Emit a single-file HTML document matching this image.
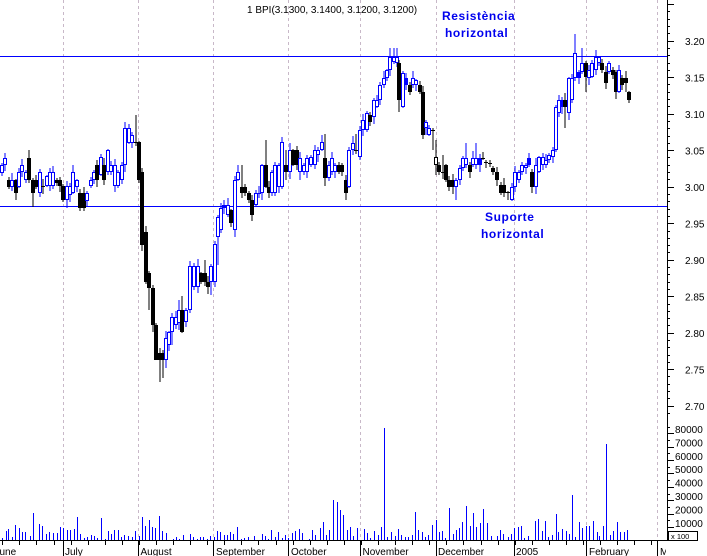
<!DOCTYPE html>
<html><head><meta charset="utf-8">
<style>
html,body{margin:0;padding:0;background:#fff;}
svg{display:block;font-family:"Liberation Sans",Arial,sans-serif;}
</style></head>
<body>
<svg id="s" width="707" height="556" viewBox="0 0 707 556" xmlns="http://www.w3.org/2000/svg">
<defs><clipPath id="cp"><rect x="0" y="0" width="666" height="556"/></clipPath></defs>
<rect x="0" y="0" width="707" height="556" fill="#fff"/>
<g id="grid" stroke="#c8b8c8" stroke-width="1" stroke-dasharray="3,3"></g>
<line x1="0" y1="56.5" x2="667" y2="56.5" stroke="#0000ff" stroke-width="1"/>
<line x1="0" y1="206.5" x2="667" y2="206.5" stroke="#0000ff" stroke-width="1"/>
<g id="vol"></g>
<g id="c"></g>
<g id="axis" stroke="#000" stroke-width="1"></g>
<text x="247" y="13" font-size="10" fill="#000">1 BPI(3.1300, 3.1400, 3.1200, 3.1200)</text>
<g font-size="12" font-weight="bold" fill="#0000ee" letter-spacing="0.6">
<text x="442" y="20">Resistència</text>
<text x="445" y="37">horizontal</text>
<text x="485" y="221">Suporte</text>
<text x="481" y="238">horizontal</text>
</g>
<g font-size="10" fill="#000" clip-path="url(#cp)">
<text x="-5.5" y="555">June</text>
<text x="65" y="555">July</text>
<text x="140.5" y="555">August</text>
<text x="216" y="555">September</text>
<text x="291" y="555">October</text>
<text x="362.5" y="555">November</text>
<text x="438" y="555">December</text>
<text x="516" y="555">2005</text>
<text x="589" y="555">February</text>
<text x="660" y="555">March</text>
</g>
<g font-size="10" fill="#000">
<text x="685" y="45">3.20</text>
<text x="685" y="81.5">3.15</text>
<text x="685" y="118">3.10</text>
<text x="685" y="154.5">3.05</text>
<text x="685" y="191">3.00</text>
<text x="685" y="227.5">2.95</text>
<text x="685" y="264">2.90</text>
<text x="685" y="300.5">2.85</text>
<text x="685" y="337">2.80</text>
<text x="685" y="373.5">2.75</text>
<text x="685" y="410">2.70</text>
<text x="675" y="433">80000</text>
<text x="675" y="446.4">70000</text>
<text x="675" y="459.8">60000</text>
<text x="675" y="473.2">50000</text>
<text x="675" y="486.6">40000</text>
<text x="675" y="500">30000</text>
<text x="675" y="513.4">20000</text>
<text x="675" y="526.8">10000</text>
</g>
<rect x="668.5" y="531.5" width="29" height="9" fill="#fff" stroke="#000" stroke-width="1"/>
<text x="671" y="539" font-size="7.5" fill="#000">x 100</text>
</svg>
<script>
(function(){
var NS='http://www.w3.org/2000/svg';
function mk(par,t,a){var e=document.createElementNS(NS,t);for(var k in a)e.setAttribute(k,a[k]);par.appendChild(e);return e;}
var grid=document.getElementById('grid');
var months=[63.5,138.5,213.5,288.5,360.5,436.5,514.5,586.5,657.5];
months.forEach(function(x){mk(grid,'line',{x1:x,y1:0,x2:x,y2:540});});
var axis=document.getElementById('axis');
mk(axis,'line',{x1:667.5,y1:0,x2:667.5,y2:541});
mk(axis,'line',{x1:0,y1:540.5,x2:668,y2:540.5});
for(var k=269;k<=326;k++){var p=k/100;var y=Math.round(186.7-(p-3)*730)+0.5;if(y<0)continue;var L=(k%5==0)?7:3;mk(axis,'line',{x1:667,y1:y,x2:667+L,y2:y});}
for(var v=5000;v<=85000;v+=5000){var y=Math.round(540.4-v*0.00134)+0.5;var L=(v%10000==0)?7:3;mk(axis,'line',{x1:667,y1:y,x2:667+L,y2:y});}
for(var x=2.3;x<667;x+=17.08){var xx=Math.round(x)+0.5;mk(axis,'line',{x1:xx,y1:540,x2:xx,y2:545});}
months.forEach(function(x){mk(axis,'line',{x1:x,y1:540,x2:x,y2:556});});
var vol=document.getElementById('vol');
var z4=[[7,145],[17,123],[25,117],[37,140],[46,105],[58,115],[67,126],[76,126],[89,138],[100,69],[118,101],[127,108],[139,132],[148,126],[160,129],[170,129],[181,111],[190,114],[200,120],[210,121],[223,117],[232,81],[241,132],[251,145],[262,141],[274,135],[283,138],[292,144],[304,84],[314,147],[325,123],[334,132],[343,120],[355,120],[364,141],[373,135],[385,138],[396,141],[406,123],[416,138],[425,81],[436,108],[448,90],[457,111],[466,114],[478,78],[487,123],[499,130],[518,148],[529,141],[538,147],[548,135],[571,132],[580,141],[590,147],[599,141],[609,141],[621,147],[631,138],[641,140],[652,123],[661,126],[673,135],[681,135],[691,126],[700,132],[712,111],[724,147],[733,144],[745,141],[763,138],[787,132],[796,138],[805,147],[814,120],[826,141],[835,126]];
var z5=[[7,143],[16,135],[25,145],[37,129],[46,123],[58,117],[67,129],[88,147],[97,120],[106,135],[120,114],[130,96],[139,135],[148,120],[160,30],[172,36],[181,60],[190,75],[202,120],[211,111],[220,138],[232,114],[253,117],[262,129],[271,144],[283,123],[295,135],[304,111],[313,-186],[322,141],[334,126],[346,138],[355,117],[364,135],[376,141],[385,141],[397,135],[406,66],[415,120],[427,126],[436,141],[445,135],[457,105],[468,90],[478,126],[487,123],[496,144],[508,54],[520,132],[529,120],[538,114],[547,96],[559,48],[571,108],[580,69],[589,111],[601,99],[610,57],[620,99],[632,138],[652,138],[661,120],[670,132],[685,141],[694,132],[703,114],[715,111],[724,108],[733,144],[745,138],[766,93],[775,87]];
var z3=[[5,393],[15,363],[25,410],[37,405],[47,342],[55,396],[65,387],[78,393],[88,402],[97,285],[106,410],[118,366],[127,384],[137,378],[148,378],[160,363],[170,396],[178,408],[190,378],[199,132],[211,405],[220,393],[230,366],[241,396],[252,396],[262,390]];
function vb(x,t){var xx=Math.round(x)+0.5;mk(vol,'line',{x1:xx,y1:540,x2:xx,y2:Math.round(t),stroke:'#0000ff','stroke-width':1});}
z4.forEach(function(a){vb(a[0]/3,490+a[1]/3);});
z5.forEach(function(a){vb(280+a[0]/3,490+a[1]/3);});
z3.forEach(function(a){vb(540+a[0]/3,400+a[1]/3);});
var C=[
[0,165,173,'u'],[3,158,165,'u'],[7,180,187,'d'],[10,180,187,'u'],[14,180,193,'d'],[17,172,187,'u'],[20,165,172,'u'],[24,172,180,'u'],[27,158,180,'d',150],[31,180,193,'d',0,207],[34,180,187,'d'],[38,172,193,'u'],[41,186,187,'d'],[45,176,186,'u'],[48,172,186,'u'],[51,172,186,'u'],[55,180,183,'d'],[58,180,186,'d'],[61,186,200,'d'],
[65,186,200,'u',0,208],[68,186,195,'u'],[71,172,193,'u'],[75,180,187,'u'],[78,193,208,'d'],[82,193,208,'d'],[85,193,201,'u'],[89,180,186,'u'],[92,172,180,'u'],[95,165,180,'d'],[99,157,175,'u'],[102,165,180,'d'],[106,150,172,'u'],[109,165,172,'u'],[113,165,186,'u'],[116,172,186,'u'],[120,165,180,'u'],[123,128,165,'u',122],[127,128,143,'u',124],[130,135,143,'u'],[134,142,143,'d',115],
[137,142,180,'d'],[140,172,245,'d'],[144,232,282,'d'],[147,273,288,'d',0,310],[151,288,325,'d'],[154,325,360,'d',0,343],[158,353,360,'d',0,382],[161,353,360,'d',0,378],[164,338,360,'u',0,368],[167,332,345,'u'],[170,317,332,'u',0,345],[174,317,325,'u'],[177,310,323,'u',300],[180,310,332,'d',296],[184,310,322,'u'],[188,266,310,'u'],[192,266,287,'u'],[196,266,287,'u'],[199,273,282,'d'],[203,273,282,'d',260],[206,282,287,'d'],[209,266,282,'u',0,295],[213,244,282,'u'],[216,217,237,'u',0,265],[219,208,230,'u'],[222,205,208,'f',200],[226,205,215,'u'],[229,210,223,'d'],[233,180,230,'u'],[236,172,180,'u',165],
[240,187,193,'d',165],[243,187,193,'d'],[247,193,200,'d'],[250,200,215,'d'],[254,193,205,'u'],[257,193,194,'u'],[260,165,193,'u'],[264,165,187,'d',140],[267,187,193,'d'],[270,172,193,'u'],[273,165,193,'u'],[277,165,187,'u'],[280,142,187,'u'],[284,165,172,'d',150,180],[288,150,172,'u'],[291,150,165,'d'],[295,150,165,'d'],[298,158,172,'u',0,180],[302,165,172,'u'],[305,158,172,'u'],[309,157,165,'u'],[313,150,165,'u'],[316,150,155,'u'],[320,142,150,'u'],[323,158,178,'d',134,186],[327,165,178,'u'],[330,158,172,'u'],[333,165,172,'u'],[337,165,172,'d'],[340,165,172,'d'],[344,180,193,'d'],[347,150,187,'u'],[351,143,150,'u'],[354,150,151,'d',134],[358,130,157,'u'],[361,120,130,'u'],[365,113,130,'u'],[368,115,122,'d'],[372,100,117,'u'],[375,100,107,'u'],[378,85,100,'u'],[382,78,85,'u'],[385,70,78,'u'],[388,57,70,'u',48],[392,57,62,'u',48],[395,57,63,'u',48],
[397,63,100,'d',0,112],[401,73,107,'u'],[404,78,85,'f'],[408,85,92,'d'],[411,78,85,'u'],[414,80,85,'u'],[418,85,92,'d'],[421,92,135,'d'],[424,122,128,'u'],[427,128,135,'u'],[431,130,131,'d',0,150],[434,157,165,'h',140,175],[437,165,172,'d'],[441,172,173,'d',155],[444,165,180,'d'],[447,180,187,'d'],[451,180,187,'d'],[454,180,187,'u',0,200],[458,168,180,'u'],[461,158,168,'u'],[464,158,165,'u',143],[468,165,172,'d'],[471,158,165,'u'],[474,158,165,'u',143],[478,158,165,'f'],[481,158,159,'d'],[484,162,163,'d'],[488,163,164,'d'],[491,168,172,'d'],[495,172,180,'d'],[499,185,193,'d'],[502,185,193,'d'],[506,192,193,'d'],[510,187,200,'u'],[513,172,187,'u'],[517,172,180,'u'],[520,165,172,'u'],[524,165,168,'u'],[527,158,165,'f'],[530,172,187,'d',0,193],[534,165,187,'u'],[537,157,172,'u'],[541,157,165,'u'],[544,160,165,'u'],[547,155,160,'u'],[551,150,157,'u'],[554,107,150,'u'],[557,100,113,'u'],[560,100,107,'f'],[563,100,107,'d',0,128],[567,78,113,'u',0,120],[570,78,100,'u'],[573,53,78,'u',34],[577,72,78,'f'],[580,63,72,'u',48],[584,63,77,'d',0,92],[587,70,78,'u'],[590,63,77,'u'],[594,57,70,'u'],[597,57,63,'u'],[600,63,70,'d'],[604,72,83,'d'],[607,63,72,'u'],[611,70,75,'d'],[614,72,92,'d'],[617,70,92,'u'],[620,78,85,'d'],[624,78,83,'d',0,92],[627,92,100,'d']
];
var cg=document.getElementById('c');
var W1=[2,5,3,7,1,4,6,2,3],W2=[3,6,2,4,7,1,5,3];
C.forEach(function(c,i){
 var x=c[0],t=c[1],b=c[2],ty=c[3];
 var hi=(c[4]&&c[4]>0)?c[4]:t-W1[i%9];
 var lo=(c[5]&&c[5]>0)?c[5]:b+W2[i%8];
 var col=(ty=='d'||ty=='h')?'#000':'#0000ff';
 mk(cg,'line',{x1:x+2,y1:hi,x2:x+2,y2:lo,stroke:col,'stroke-width':1});
 var h=b-t;
 if(h<=1){mk(cg,'line',{x1:x,y1:t+0.5,x2:x+4,y2:t+0.5,stroke:col,'stroke-width':1});return;}
 if(ty=='d'||ty=='f'){mk(cg,'rect',{x:x,y:t,width:4,height:h,fill:col});}
 else{mk(cg,'rect',{x:x+0.5,y:t+0.5,width:3,height:h-1,fill:'#fff',stroke:col,'stroke-width':1});}
});
})();
</script>
</body></html>
